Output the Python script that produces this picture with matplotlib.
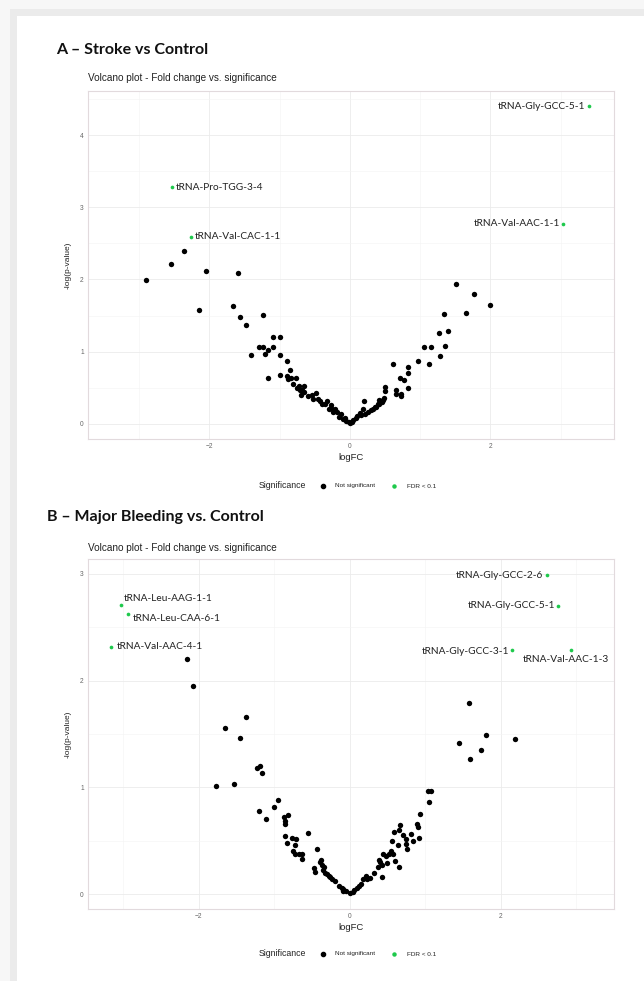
import matplotlib
matplotlib.use("Agg")
import matplotlib.pyplot as plt
from matplotlib.patches import Rectangle
from matplotlib.lines import Line2D
from matplotlib.ticker import MultipleLocator

# ---------------- data ----------------
a_ns_x = [-2.90, -2.55, -2.36, -2.05, -2.15, -1.60, -1.66, -1.56, -1.48, -1.24, -1.41, -1.30, -1.24,
          -1.21, -1.16, -1.10, -1.09, -0.99, -1.00, -1.16, -1.00, -0.90, -0.86, -0.90, -0.84, -0.77,
          -0.81, -0.73, -0.66, -0.71, -0.70, -0.65, -0.54, -0.48, -0.46, -0.42, -0.36, -0.33, -0.27,
          -0.27, -0.21, -0.18, -0.13, -0.07, -0.02, 0.00, -0.60, -0.52, -0.40, -0.30, -0.24, -0.15,
          -0.10, -0.05, -0.88, -0.75, -0.68,
          1.51, 1.76, 1.99, 1.34, 1.65, 1.27, 1.39, 1.05, 1.15, 1.35, 1.28, 0.97, 1.13, 0.62, 0.82,
          0.83, 0.71, 0.77, 0.82, 0.66, 0.66, 0.72, 0.73, 0.50, 0.50, 0.47, 0.44, 0.41, 0.37, 0.33,
          0.20, 0.19, 0.14, 0.10, 0.05, 0.45, 0.40, 0.35, 0.30, 0.25, 0.22, 0.16, 0.08, 0.03, 0.42, 0.48]
a_ns_y = [1.99, 2.21, 2.39, 2.12, 1.57, 2.09, 1.63, 1.48, 1.37, 1.51, 0.95, 1.06, 1.07,
          0.97, 1.02, 1.20, 1.07, 1.20, 0.96, 0.64, 0.67, 0.87, 0.74, 0.66, 0.63, 0.64,
          0.55, 0.52, 0.52, 0.47, 0.40, 0.44, 0.40, 0.43, 0.34, 0.31, 0.28, 0.32, 0.26,
          0.22, 0.20, 0.16, 0.13, 0.08, 0.03, 0.01, 0.38, 0.35, 0.27, 0.21, 0.17, 0.10,
          0.07, 0.04, 0.62, 0.50, 0.47,
          1.93, 1.80, 1.64, 1.52, 1.53, 1.26, 1.28, 1.06, 1.06, 1.08, 0.94, 0.87, 0.83, 0.83, 0.79,
          0.70, 0.64, 0.61, 0.49, 0.47, 0.42, 0.39, 0.41, 0.51, 0.45, 0.33, 0.31, 0.27, 0.23, 0.20,
          0.32, 0.20, 0.15, 0.11, 0.06, 0.30, 0.28, 0.24, 0.19, 0.17, 0.14, 0.12, 0.08, 0.03, 0.33, 0.36]

a_sig_x = [3.40, 3.03, -2.53, -2.26]
a_sig_y = [4.40, 2.77, 3.28, 2.59]
a_sig_labels = ["tRNA-Gly-GCC-5-1", "tRNA-Val-AAC-1-1", "tRNA-Pro-TGG-3-4", "tRNA-Val-CAC-1-1"]

b_ns_x = [-2.16, -2.08, -1.37, -1.66, -1.45, -1.23, -1.19, -1.16, -1.77, -1.54, -0.95, -1.00, -1.21,
          -1.11, -0.87, -0.82, -0.86, -0.86, -0.86, -0.77, -0.72, -0.55, -0.83, -0.73, -0.76, -0.73,
          -0.68, -0.64, -0.43, -0.64, -0.38, -0.47, -0.46, -0.37, -0.36, -0.33, -0.28, -0.24, -0.14,
          -0.09, 0.00, -0.30, -0.26, -0.20, -0.34, -0.40, -0.05,
          1.58, 1.81, 1.44, 2.19, 1.74, 1.59, 1.04, 1.08, 1.05, 0.93, 0.89, 0.90, 0.67, 0.59, 0.65,
          0.81, 0.91, 0.83, 0.75, 0.76, 0.71, 0.74, 0.64, 0.56, 0.57, 0.44, 0.52, 0.60, 0.65, 0.49,
          0.43, 0.38, 0.37, 0.32, 0.43, 0.23, 0.21, 0.17, 0.15, 0.09, -0.10, -0.09, 0.04, 0.48, 0.54,
          0.40, 0.27, 0.12, 0.06]
b_ns_y = [2.20, 1.95, 1.66, 1.56, 1.46, 1.18, 1.20, 1.13, 1.01, 1.03, 0.88, 0.82, 0.78,
          0.70, 0.72, 0.74, 0.68, 0.66, 0.54, 0.53, 0.52, 0.57, 0.48, 0.46, 0.40, 0.38,
          0.38, 0.38, 0.42, 0.33, 0.32, 0.24, 0.21, 0.27, 0.23, 0.20, 0.17, 0.14, 0.08,
          0.05, 0.01, 0.19, 0.16, 0.12, 0.25, 0.30, 0.03,
          1.79, 1.49, 1.42, 1.45, 1.35, 1.27, 0.97, 0.97, 0.86, 0.75, 0.66, 0.63, 0.65, 0.58, 0.60,
          0.56, 0.53, 0.50, 0.47, 0.42, 0.55, 0.52, 0.46, 0.50, 0.38, 0.38, 0.38, 0.31, 0.25, 0.29,
          0.27, 0.32, 0.25, 0.20, 0.16, 0.14, 0.17, 0.14, 0.09, 0.06, 0.06, 0.03, 0.02, 0.36, 0.40,
          0.30, 0.15, 0.08, 0.04]

b_sig_x = [2.61, 2.76, 2.15, 2.93, -3.03, -2.94, -3.17]
b_sig_y = [2.99, 2.70, 2.29, 2.29, 2.71, 2.62, 2.32]
b_sig_labels = ["tRNA-Gly-GCC-2-6", "tRNA-Gly-GCC-5-1", "tRNA-Gly-GCC-3-1", "tRNA-Val-AAC-1-3",
                "tRNA-Leu-AAG-1-1", "tRNA-Leu-CAA-6-1", "tRNA-Val-AAC-4-1"]

panel_titles = ["A \u2013 Stroke vs Control", "B \u2013 Major Bleeding vs. Control"]
subtitle = "Volcano plot - Fold change vs. significance"
legend_labels = ["Not significant", "FDR < 0.1"]

# ---------------- styling ----------------
W, H = 644, 981
GREEN = "#1ec94c"
fig = plt.figure(figsize=(W / 100, H / 100), dpi=100)
fig.patch.set_facecolor("#f7f7f7")


def fx(px):
    return px / W


def fy(py):
    return 1 - py / H


fig.add_artist(Rectangle((fx(10), 0), 1, fy(9), transform=fig.transFigure,
                         facecolor="#ebebeb", edgecolor="none", zorder=0))
fig.add_artist(Rectangle((fx(17), 0), 1, fy(16), transform=fig.transFigure,
                         facecolor="white", edgecolor="none", zorder=0))

LABEL_FONT = ["Lato", "DejaVu Sans"]
SANS = ["Liberation Sans", "DejaVu Sans"]


def make_panel(top, bottom, xlim, ylim, yticks, ns_x, ns_y, sx, sy, labels, offsets,
               title, title_x, title_y, sub_y, logfc_y, legend_y):
    ax = fig.add_axes([fx(88), fy(bottom), fx(614) - fx(88), fy(top) - fy(bottom)])
    ax.set_xlim(*xlim)
    ax.set_ylim(*ylim)
    ax.set_xticks([-2, 0, 2])
    ax.xaxis.set_minor_locator(MultipleLocator(1))
    ax.set_yticks(yticks)
    ax.yaxis.set_minor_locator(MultipleLocator(0.5))
    ax.grid(which="major", color="#ebebeb", lw=0.6)
    ax.grid(which="minor", color="#f4f4f4", lw=0.4)
    ax.set_axisbelow(True)
    for s in ax.spines.values():
        s.set_color("#e2dadd")
        s.set_linewidth(0.8)
    ax.tick_params(which="both", length=0, labelsize=4.8, labelcolor="#666666", pad=3)
    for t in ax.get_xticklabels() + ax.get_yticklabels():
        t.set_family(SANS)
    ax.set_ylabel("-log(p-value)", fontsize=6, family=SANS, color="#222222", labelpad=6)
    ax.scatter(ns_x, ns_y, s=15, color="black", linewidths=0, zorder=3)
    ax.scatter(sx, sy, s=7, color=GREEN, linewidths=0, zorder=3)
    for x, y, lab, (dx, dy, ha, va) in zip(sx, sy, labels, offsets):
        ax.annotate(lab, (x, y), xytext=(dx, dy), textcoords="offset pixels", ha=ha, va=va,
                    fontsize=7.3, family=LABEL_FONT, color="#222222")
    fig.text(fx(351), fy(logfc_y), "logFC", ha="center", va="center", fontsize=6.8,
             family=SANS, color="#222222")
    fig.text(fx(title_x), fy(title_y), title, ha="left", va="center", fontsize=11.5,
             family=LABEL_FONT, weight="bold", color="#111111")
    fig.text(fx(88), fy(sub_y), subtitle, ha="left", va="center", fontsize=7.2,
             family=SANS, color="#222222")
    # legend
    fig.text(fx(259), fy(legend_y), "Significance", ha="left", va="center", fontsize=6.3,
             family=SANS, color="#222222")
    fig.add_artist(Line2D([fx(323)], [fy(legend_y)], marker="o", ms=3.0, color="black",
                          lw=0, transform=fig.transFigure))
    fig.text(fx(335), fy(legend_y), legend_labels[0], ha="left", va="center", fontsize=4.6,
             family=SANS, color="#222222")
    fig.add_artist(Line2D([fx(394)], [fy(legend_y)], marker="o", ms=2.2, color=GREEN,
                          lw=0, transform=fig.transFigure))
    fig.text(fx(407), fy(legend_y), legend_labels[1], ha="left", va="center", fontsize=4.6,
             family=SANS, color="#222222")
    return ax


a_offsets = [(-3, 0, "right", "center"), (-3, 0, "right", "center"),
             (4, 0, "left", "center"), (4, 0, "left", "center")]
make_panel(91, 439, (-3.73, 3.76), (-0.21, 4.61), [0, 1, 2, 3, 4],
           a_ns_x, a_ns_y, a_sig_x, a_sig_y, a_sig_labels, a_offsets,
           panel_titles[0], 56, 50, 78, 457, 486)

b_offsets = [(-4, 0, "right", "center"), (-3, 0, "right", "center"),
             (-3, -2, "right", "center"), (-5, -10, "center", "center"),
             (3, 6, "left", "center"), (5, -4, "left", "center"), (6, 0, "left", "center")]
make_panel(559, 909, (-3.47, 3.50), (-0.14, 3.14), [0, 1, 2, 3],
           b_ns_x, b_ns_y, b_sig_x, b_sig_y, b_sig_labels, b_offsets,
           panel_titles[1], 47, 517, 548, 927, 954)

fig.savefig("out.png", dpi=100, facecolor=fig.get_facecolor())
